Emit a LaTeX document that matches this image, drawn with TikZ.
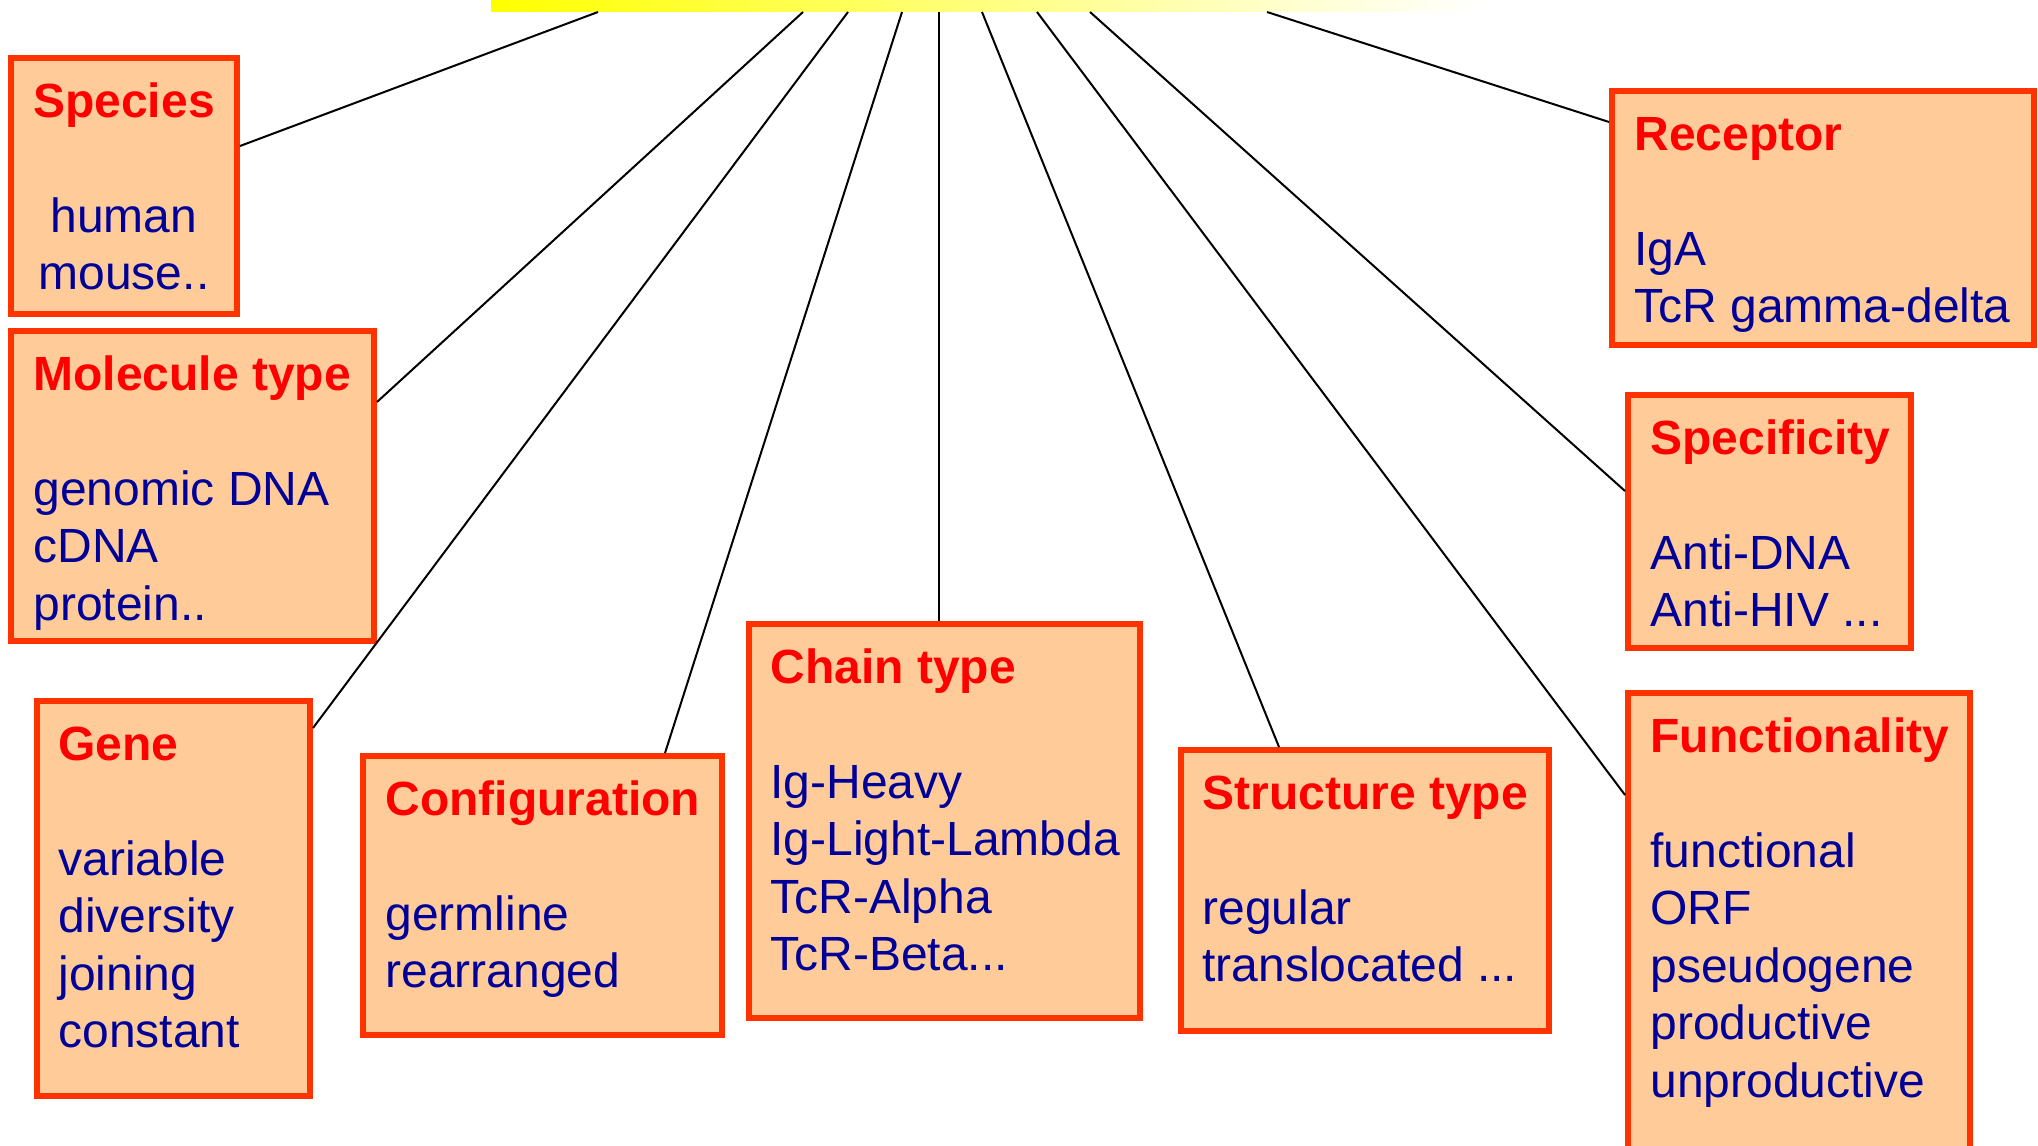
\documentclass[tikz,border=0pt]{standalone}
\usepackage{fontspec}
\setmainfont{Liberation Sans}
\definecolor{boxedge}{HTML}{FF3300}
\definecolor{boxfill}{HTML}{FFCC99}
\definecolor{headred}{HTML}{FF0000}
\definecolor{itemblue}{HTML}{000099}
\begin{document}
\begin{tikzpicture}[x=0.5pt,y=-0.5pt,
  catbox/.style={draw=boxedge, fill=boxfill, line width=3pt, outer sep=1.5pt,
    inner sep=0pt, rectangle, anchor=north west},
  boxsize/.style 2 args={minimum width=#1*0.5pt-3pt, minimum height=#2*0.5pt-3pt},
  cattext/.style={inner sep=0pt, anchor=north west, align=left, text=itemblue,
    font=\fontsize{24}{28.75}\selectfont},
  link/.style={draw=black, line width=1pt}]
\useasboundingbox (0,0) rectangle (2038,1145);
\fill[white] (0,0) rectangle (2038,1145);
\newcommand\head[1]{\rule{0pt}{20pt}\textbf{\textcolor{headred}{#1}}\\[28.75pt]}

% yellow hub strip along the top edge
\shade[left color=yellow, right color=white] (491,0) rectangle (1480,12);

% category boxes
\node[catbox, boxsize={232}{262}] (species)   at (8,55) {};
\node[catbox, boxsize={369}{316}] (molecule)  at (8,328) {};
\node[catbox, boxsize={279}{401}] (gene)      at (34,698) {};
\node[catbox, boxsize={365}{285}] (config)    at (360,753) {};
\node[catbox, boxsize={397}{400}] (chain)     at (746,621) {};
\node[catbox, boxsize={374}{287}] (structure) at (1178,747) {};
\node[catbox, boxsize={428}{260}] (receptor)  at (1609,88) {};
\node[catbox, boxsize={289}{259}] (specif)    at (1625,392) {};
\node[catbox, boxsize={348}{500}] (funct)     at (1625,690) {};

% box contents
\node[cattext, anchor=north, align=center] (speciesT) at (124,77)
  {\head{Species}human\\mouse..};
\node[cattext] (moleculeT) at (33,350)
  {\head{Molecule type}genomic DNA\\cDNA\\protein..};
\node[cattext] (geneT) at (58,720)
  {\head{Gene}variable\\diversity\\joining\\constant};
\node[cattext] (configT) at (385,775)
  {\head{Configuration}germline\\rearranged};
\node[cattext] (chainT) at (770,643)
  {\head{Chain type}Ig-Heavy\\Ig-Light-Lambda\\TcR-Alpha\\TcR-Beta...};
\node[cattext] (structureT) at (1202,769)
  {\head{Structure type}regular\\translocated ...};
\node[cattext] (receptorT) at (1634,110)
  {\head{Receptor}IgA\\TcR gamma-delta};
\node[cattext] (specifT) at (1650,414)
  {\head{Specificity}Anti-DNA\\Anti-HIV ...};
\node[cattext] (functT) at (1650,712)
  {\head{Functionality}functional\\ORF\\pseudogene\\productive\\unproductive};

% connector roots under the strip
\coordinate (r1) at (598,12);
\coordinate (r2) at (803,12);
\coordinate (r3) at (848,12);
\coordinate (r4) at (902,12);
\coordinate (r5) at (939,12);
\coordinate (r6) at (982,12);
\coordinate (r7) at (1037,12);
\coordinate (r8) at (1090,12);
\coordinate (r9) at (1267,12);

% connectors
\draw[link] (r1) -- (species.east |- 0,146);
\draw[link] (r2) -- (molecule.east |- 0,402);
\draw[link] (r3) -- (gene.east |- 0,728);
\draw[link] (r4) -- (config.north -| 665,0);
\draw[link] (r5) -- (chain.north -| 939,0);
\draw[link] (r6) -- (structure.north -| 1279,0);
\draw[link] (r7) -- (funct.west |- 0,795);
\draw[link] (r8) -- (specif.west |- 0,491);
\draw[link] (r9) -- (receptor.west |- 0,122);
\end{tikzpicture}
\end{document}
